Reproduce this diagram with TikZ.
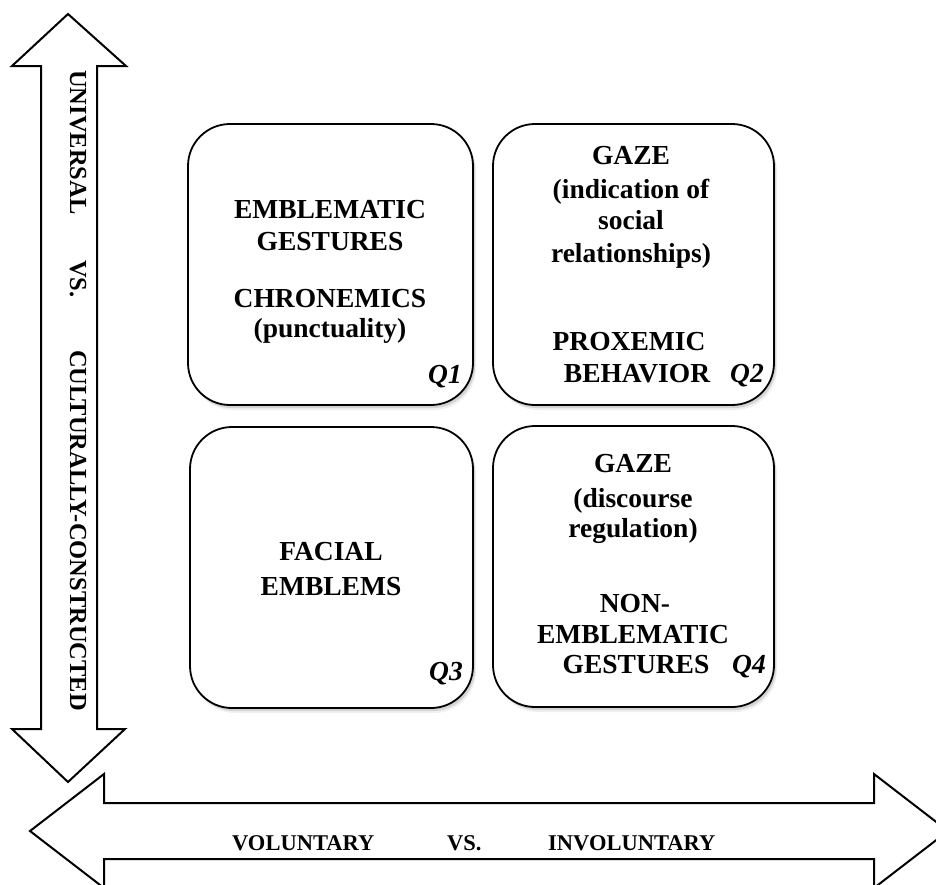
\documentclass[tikz,border=0pt]{standalone}
\usepackage{fontspec}
\setmainfont{Liberation Serif}
\usetikzlibrary{shadows}
\begin{document}
\begin{tikzpicture}[x=1pt,y=-1pt,
  axisarrow/.style={draw=black, line width=2pt, fill=white, line join=miter},
  quad/.style={draw=black, line width=1.8pt, fill=white, rectangle, rounded corners=42pt,
    inner sep=0pt, minimum width=#1, minimum height=281pt,
    drop shadow={shadow xshift=3pt, shadow yshift=-5pt, fill=black!40, opacity=0.15},
    drop shadow={shadow xshift=2pt, shadow yshift=-3pt, fill=black!50, opacity=0.25}},
  qtext/.style={font=\bfseries\fontsize{27.5}{32}\selectfont, anchor=base, inner sep=0pt},
  qlab/.style={font=\bfseries\itshape\fontsize{27.5}{32}\selectfont, anchor=base east, inner sep=0pt},
  axtext/.style={font=\bfseries\fontsize{22.5}{26}\selectfont, anchor=base west, inner sep=0pt},
  vtext/.style={font=\bfseries\fontsize{24.5}{28}\selectfont, anchor=base west, inner sep=0pt, rotate=-90}]
\useasboundingbox (0,0) rectangle (936,884);
\clip (0,0) rectangle (936,884);

% vertical axis arrow
\draw[axisarrow] (68,14) -- (126,66) -- (97,66) -- (97,729) -- (125,729) -- (68,782)
  -- (12,729) -- (41,729) -- (41,66) -- (12,66) -- cycle;
% horizontal axis arrow
\draw[axisarrow] (30,831) -- (104,774) -- (104,803) -- (874,803) -- (874,774) -- (948,831)
  -- (874,888) -- (874,859) -- (104,859) -- (104,888) -- cycle;

\node[vtext] (vuni) at (70,70) {UNIVERSAL};
\node[vtext] (vvs) at (70,260) {VS.};
\node[vtext] (vcul) at (70,350) {CULTURALLY-CONSTRUCTED};

\node[axtext] (hvol) at (232,850) {VOLUNTARY};
\node[axtext] (hvs) at (447,850) {VS.};
\node[axtext] (hinv) at (548,850) {INVOLUNTARY};

% quadrants
\node[quad=285pt] (q1) at (330.5,264.5) {};
\node[quad=281pt] (q2) at (633.5,264.5) {};
\node[quad=283pt] (q3) at (331.5,567.5) {};
\node[quad=281pt] (q4) at (633.5,566.5) {};

% Q1 text
\node[qtext] (t11) at (330,218) {EMBLEMATIC};
\node[qtext] (t12) at (330,250) {GESTURES};
\node[qtext] (t13) at (330,307) {CHRONEMICS};
\node[qtext] (t14) at (330,337) {(punctuality)};
\node[qlab] (l1) at (462,383) {Q1};

% Q2 text
\node[qtext] (t21) at (631,164) {GAZE};
\node[qtext] (t22) at (631,198) {(indication of};
\node[qtext] (t23) at (631,229) {social};
\node[qtext] (t24) at (631,262) {relationships)};
\node[qtext] (t25) at (629,350) {PROXEMIC};
\node[qtext] (t26) at (637,382) {BEHAVIOR};
\node[qlab] (l2) at (764,382) {Q2};

% Q3 text
\node[qtext] (t31) at (331,560) {FACIAL};
\node[qtext] (t32) at (331,595) {EMBLEMS};
\node[qlab] (l3) at (463,680) {Q3};

% Q4 text
\node[qtext] (t41) at (633,472) {GAZE};
\node[qtext] (t42) at (633,507) {(discourse};
\node[qtext] (t43) at (633,537) {regulation)};
\node[qtext] (t44) at (635,612) {NON-};
\node[qtext] (t45) at (633,643) {EMBLEMATIC};
\node[qtext] (t46) at (636,673) {GESTURES};
\node[qlab] (l4) at (766,673) {Q4};
\end{tikzpicture}
\end{document}
